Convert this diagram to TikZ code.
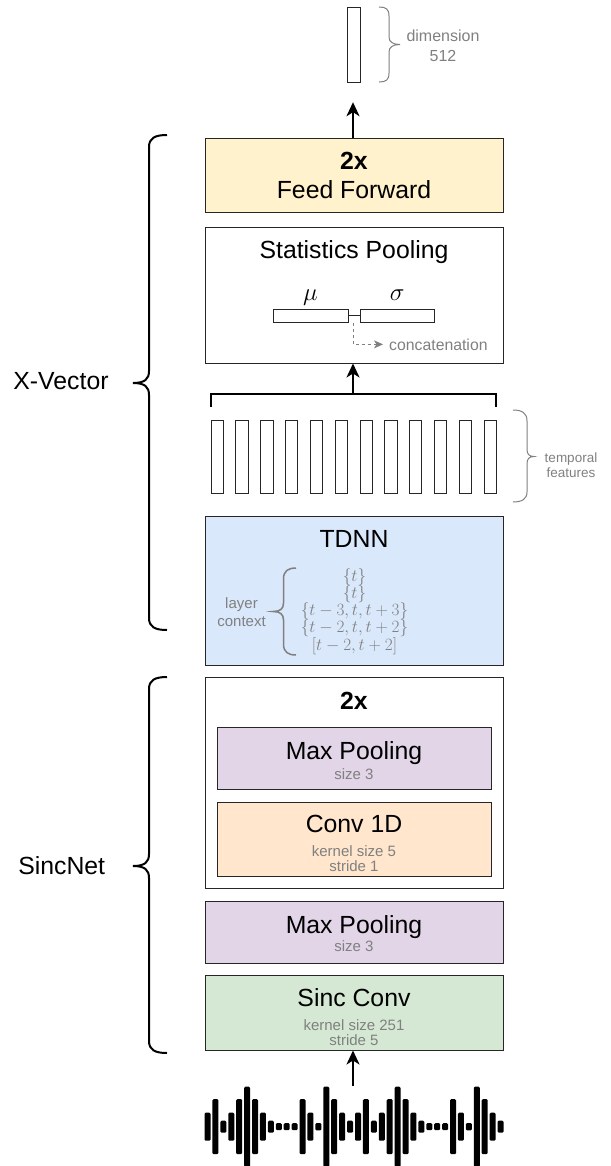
\documentclass[tikz,border=0pt]{standalone}
\usepackage[no-math]{fontspec}
\setmainfont{Liberation Sans}
\usetikzlibrary{arrows.meta}
\definecolor{tgray}{HTML}{808080}
\definecolor{ffyel}{HTML}{FFF2CC}
\definecolor{tdblue}{HTML}{DAE8FC}
\definecolor{mppurp}{HTML}{E1D5E7}
\definecolor{convor}{HTML}{FFE6CC}
\definecolor{sincgr}{HTML}{D5E8D4}
\newcommand\fmain{\fontsize{24.8bp}{28bp}\selectfont}
\newcommand\fsmall{\fontsize{15bp}{18bp}\selectfont}
\newcommand\fconc{\fontsize{15.8bp}{18bp}\selectfont}
\newcommand\fdim{\fontsize{16bp}{20bp}\selectfont}
\newcommand\ftemp{\fontsize{13.5bp}{15bp}\selectfont}
\newcommand\fmathctx{\fontsize{17.3bp}{17bp}\selectfont}
\newcommand\fgreek{\fontsize{29bp}{29bp}\selectfont}
\tikzset{
  box/.style={draw=black!85, line width=1bp, minimum width=298bp, inner sep=0},
  ibox/.style={box, minimum width=274bp},
  lbl/.style={anchor=base, inner sep=0, font=\fmain},
  blbl/.style={anchor=base, inner sep=0, font=\fmain\bfseries},
  sub/.style={anchor=base, inner sep=0, font=\fsmall, text=tgray},
  conn/.style={line width=2bp, -{Stealth[length=14bp,width=13bp,inset=4bp]}},
  bracew/.style={line width=2bp, black},
  gbrace/.style={line width=1bp, tgray},
  vecbox/.style={draw=black!85, line width=1bp, fill=white, inner sep=0},
}
\begin{document}
\begin{tikzpicture}[x=1bp,y=-1bp]
\useasboundingbox (0,0) rectangle (611,1166);

% ---------- output vector ----------
\node[vecbox, minimum width=12.6bp, minimum height=75bp] (vec) at (354,44.5) {};
\draw[gbrace] (379,7) .. controls (386,7) and (389,9) .. (389,16) -- (389,37)
  .. controls (389,42) and (393,44.5) .. (400,44.5)
  .. controls (393,44.5) and (389,47) .. (389,52) -- (389,73)
  .. controls (389,80) and (386,82) .. (379,82);
\node[anchor=base, inner sep=0, font=\fdim, text=tgray] (dim1) at (443,41.7) {dimension};
\node[anchor=base, inner sep=0, font=\fdim, text=tgray] (dim2) at (443,61.7) {512};

% ---------- feed forward ----------
\node[box, fill=ffyel, minimum height=74bp] (ff) at (354,175) {};
\node[blbl] (ff2x) at (354,169.3) {2x};
\node[lbl] (fft) at (354,198.3) {Feed Forward};
\coordinate (ax) at (353,0);
\draw[conn, shorten >=19.7bp] (ff.north -| ax) -- (vec.south -| ax);

% ---------- statistics pooling ----------
\node[box, fill=white, minimum height=136bp] (stats) at (354,295) {};
\node[lbl] (statst) at (354,258.3) {Statistics Pooling};
\node[vecbox, minimum width=75bp, minimum height=13bp] (mu) at (310.5,315.5) {};
\node[vecbox, minimum width=74bp, minimum height=13bp] (sigma) at (397,315.5) {};
\draw[line width=1bp, black!85] (mu.east) -- (sigma.west);
\node[anchor=base, inner sep=0, font=\fgreek] (mul) at (310.5,300.7) {$\mu$};
\node[anchor=base, inner sep=0, font=\fgreek] (sigl) at (397.3,300.7) {$\sigma$};
\node[anchor=base west, inner sep=0, font=\fconc, text=tgray] (concat) at (389,350) {concatenation};
\coordinate (cstart) at (353.3,323);
\draw[tgray, line width=1bp, dash pattern=on 3bp off 3bp,
  -{Stealth[length=9bp,width=8bp,inset=2.5bp,sep=0bp]}]
  (cstart) |- ([xshift=-6bp]concat.west);

% ---------- temporal features ----------
\foreach \i in {0,...,11}
  \node[vecbox, minimum width=12.3bp, minimum height=73bp] (tf\i) at (217.2+\i*24.83,456.5) {};
\draw[bracew] (210.5,407) -- (210.5,394) -- (496,394) -- (496,407);
\coordinate (brm) at (353,394);
\draw[conn] (brm) -- (stats.south -| brm);
\draw[gbrace] (513,410) .. controls (522,410) and (527,413) .. (527,421) -- (527,449)
  .. controls (527,454) and (529,456.5) .. (534,456.5)
  .. controls (529,456.5) and (527,459) .. (527,464) -- (527,492)
  .. controls (527,499) and (522,502) .. (513,502);
\node[anchor=base, inner sep=0, font=\ftemp, text=tgray] (tfa) at (571,462.5) {temporal};
\node[anchor=base, inner sep=0, font=\ftemp, text=tgray] (tfb) at (571,477) {features};

% ---------- TDNN ----------
\node[box, fill=tdblue, minimum height=149bp] (tdnn) at (354,590.5) {};
\node[lbl] (tdnnt) at (354,547.3) {TDNN};
\node[sub] (lay1) at (241.5,608.3) {layer};
\node[sub] (lay2) at (241.5,626) {context};
\draw[tgray, line width=1.5bp] (296,568) .. controls (288,568) and (283.5,571) .. (283.5,579) -- (283.5,603)
  .. controls (283.5,609) and (280,611.5) .. (273,611.5)
  .. controls (280,611.5) and (283.5,614) .. (283.5,620) -- (283.5,644)
  .. controls (283.5,652) and (288,655) .. (296,655);
\node[anchor=base, inner sep=0, font=\fmathctx, text=tgray] (c1) at (354.5,581) {$\{t\}$};
\node[anchor=base, inner sep=0, font=\fmathctx, text=tgray] (c2) at (354.5,598.2) {$\{t\}$};
\node[anchor=base, inner sep=0, font=\fmathctx, text=tgray] (c3) at (354.5,615.5) {$\{t-3, t, t+3\}$};
\node[anchor=base, inner sep=0, font=\fmathctx, text=tgray] (c4) at (354.5,632.7) {$\{t-2, t, t+2\}$};
\node[anchor=base, inner sep=0, font=\fmathctx, text=tgray] (c5) at (354.5,650) {$[t-2, t+2]$};

% ---------- SincNet 2x block ----------
\node[box, fill=white, minimum height=211bp] (s2x) at (354,782.5) {};
\node[blbl] (s2xt) at (354,709) {2x};
\node[ibox, fill=mppurp, minimum height=62bp] (mp1) at (354,758) {};
\node[lbl] (mp1t) at (354,759) {Max Pooling};
\node[sub] (mp1s) at (354,779.3) {size 3};
\node[ibox, fill=convor, minimum height=74bp] (conv) at (354,839) {};
\node[lbl] (convt) at (354,832.7) {Conv 1D};
\node[sub] (convs1) at (354,856.7) {kernel size 5};
\node[sub] (convs2) at (354,871.7) {stride 1};

% ---------- Max pooling + Sinc conv ----------
\node[box, fill=mppurp, minimum height=62bp] (mp2) at (354,932) {};
\node[lbl] (mp2t) at (354,933.3) {Max Pooling};
\node[sub] (mp2s) at (354,951.7) {size 3};
\node[box, fill=sincgr, minimum height=75bp] (sinc) at (354,1012.5) {};
\node[lbl] (sinct) at (354,1006) {Sinc Conv};
\node[sub] (sincs1) at (354,1030.7) {kernel size 251};
\node[sub] (sincs2) at (354,1045) {stride 5};

% ---------- waveform ----------
\foreach \i/\h in {0/14,1/27.5,2/6,3/14,4/27.5,5/40,6/27.5,7/14,8/6,9/3.5,10/3.5,11/3.5,
                   12/27.5,13/14,14/3.7,15/40,16/27.5,17/14,18/6}{
  \fill[rounded corners=1.2bp] (207.5+\i*7.92-3,1126.7-\h) rectangle ++(6,2*\h);
  \fill[rounded corners=1.2bp] (207.5+\i*7.92+150.5-3,1126.7-\h) rectangle ++(6,2*\h);
}
\coordinate (wv) at (353,1085.5);
\draw[conn] (wv) -- (sinc.south -| wv);

% ---------- left braces ----------
\draw[bracew] (167,135) .. controls (155,135) and (149,138) .. (149,147) -- (149,371)
  .. controls (149,379) and (145,383) .. (133,383)
  .. controls (145,383) and (149,387) .. (149,395) -- (149,618)
  .. controls (149,627) and (155,630) .. (167,630);
\node[lbl] (xv) at (61,389.3) {X-Vector};
\draw[bracew] (167,677) .. controls (155,677) and (149,680) .. (149,689) -- (149,854)
  .. controls (149,862) and (145,866) .. (133,866)
  .. controls (145,866) and (149,870) .. (149,878) -- (149,1041)
  .. controls (149,1050) and (155,1053) .. (167,1053);
\node[lbl] (sn) at (61.7,874) {SincNet};
\end{tikzpicture}
\end{document}
